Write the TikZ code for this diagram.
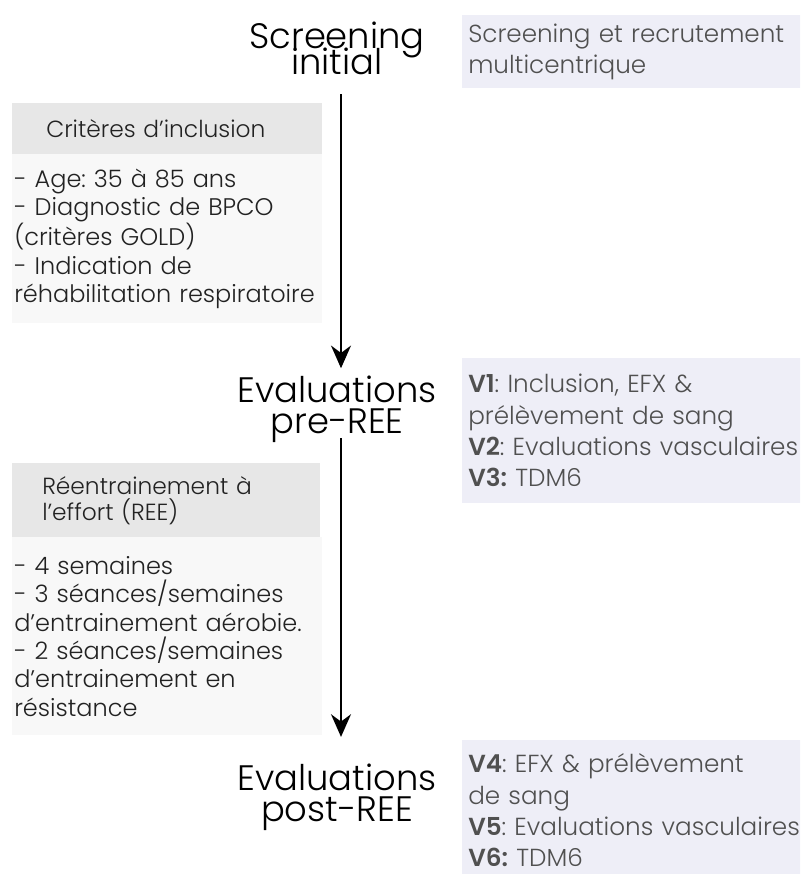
\documentclass[tikz,border=0pt]{standalone}
\usepackage{fontspec}
\setmainfont{Poppins}[UprightFont=* Light, BoldFont=* SemiBold]
\usepackage{xcolor}
\definecolor{visitfill}{HTML}{EEEEF7}
\definecolor{visittext}{HTML}{505050}
\definecolor{headfill}{HTML}{E7E7E7}
\definecolor{bodyfill}{HTML}{F8F8F8}
\definecolor{bodytext}{HTML}{222222}
\usetikzlibrary{arrows.meta,positioning,calc}
\frenchspacing
\newcommand\stagesize[1]{\fontsize{26.5}{#1}\selectfont\lineskiplimit=-50pt\relax}

\begin{document}
\begin{tikzpicture}[
  x=0.75pt, y=-0.75pt,
  every node/.style={inner sep=0pt},
  stage/.style={align=center, font=\stagesize{23}},
  visit/.style={fill=visitfill, anchor=north west, minimum width=253.5pt,
    text width=280pt, inner xsep=4.5pt, align=left, text=visittext,
    font=\fontsize{18.5}{23.5}\selectfont},
  crithead/.style={fill=headfill, anchor=north west, align=left,
    text=bodytext, font=\fontsize{17.5}{19.5}\selectfont},
  critbody/.style={fill=bodyfill, anchor=north west, minimum width=232.5pt,
    text width=229.5pt, inner xsep=1.5pt, align=left, text=bodytext,
    font=\fontsize{18}{21.25}\selectfont},
  arr/.style={-{Stealth[length=17pt, width=15pt]}, line width=1.4pt}
]
\clip (0,0) rectangle (800,874);
\fill[white] (0,0) rectangle (800,874);

% stages of the protocol
\node[stage, font=\stagesize{20}] (screen) at (337,48.5) {Screening\\initial};
\node[stage] (pre) at (337,409) {Evaluations\\pre-REE};
\node[stage] (post) at (337,797) {Evaluations\\post-REE};

% visits
\node[visit, minimum height=54.75pt] (v0) at (462,15)
  {Screening et recrutement\\multicentrique};
\node[visit, minimum height=108.75pt] (v13) at (462,358)
  {\textbf{V1}: Inclusion, EFX \&\\prélèvement de sang\\
   \textbf{V2}: Evaluations vasculaires\\\textbf{V3:} TDM6};
\node[visit, minimum height=105pt] (v46) at (462,740)
  {\textbf{V4}: EFX \& prélèvement\\de sang\\
   \textbf{V5}: Evaluations vasculaires\\\textbf{V6:} TDM6};

% inclusion
\node[crithead, minimum width=232.5pt, minimum height=38.25pt, text width=181.5pt,
  inner xsep=25.5pt] (inchead) at (12,103) {Critères d’inclusion};
\node[critbody, minimum height=126.75pt] (incbody) at (12,154)
  {- Age: 35 à 85 ans\\- Diagnostic de BPCO\\(critères GOLD)\\- Indication de\\réhabilitation respiratoire};

% training
\node[crithead, minimum width=231pt, minimum height=55.5pt, text width=186pt,
  inner xsep=22.5pt] (reehead) at (12,463) {Réentrainement à\\l’effort (REE)};
\node[critbody, minimum width=231pt, minimum height=148.5pt] (reebody) at (12,537)
  {- 4 semaines\\- 3 séances/semaines\\d’entrainement aérobie.\\- 2 séances/semaines\\d’entrainement en\\résistance};

\draw[arr, shorten <=14pt, shorten >=5.5pt] ($(screen.south)+(4,0)$) -- ($(pre.north)+(4,0)$);
\draw[arr, shorten <=-3pt, shorten >=20pt] ($(pre.south)+(4,0)$) -- ($(post.north)+(4,0)$);
\end{tikzpicture}
\end{document}
